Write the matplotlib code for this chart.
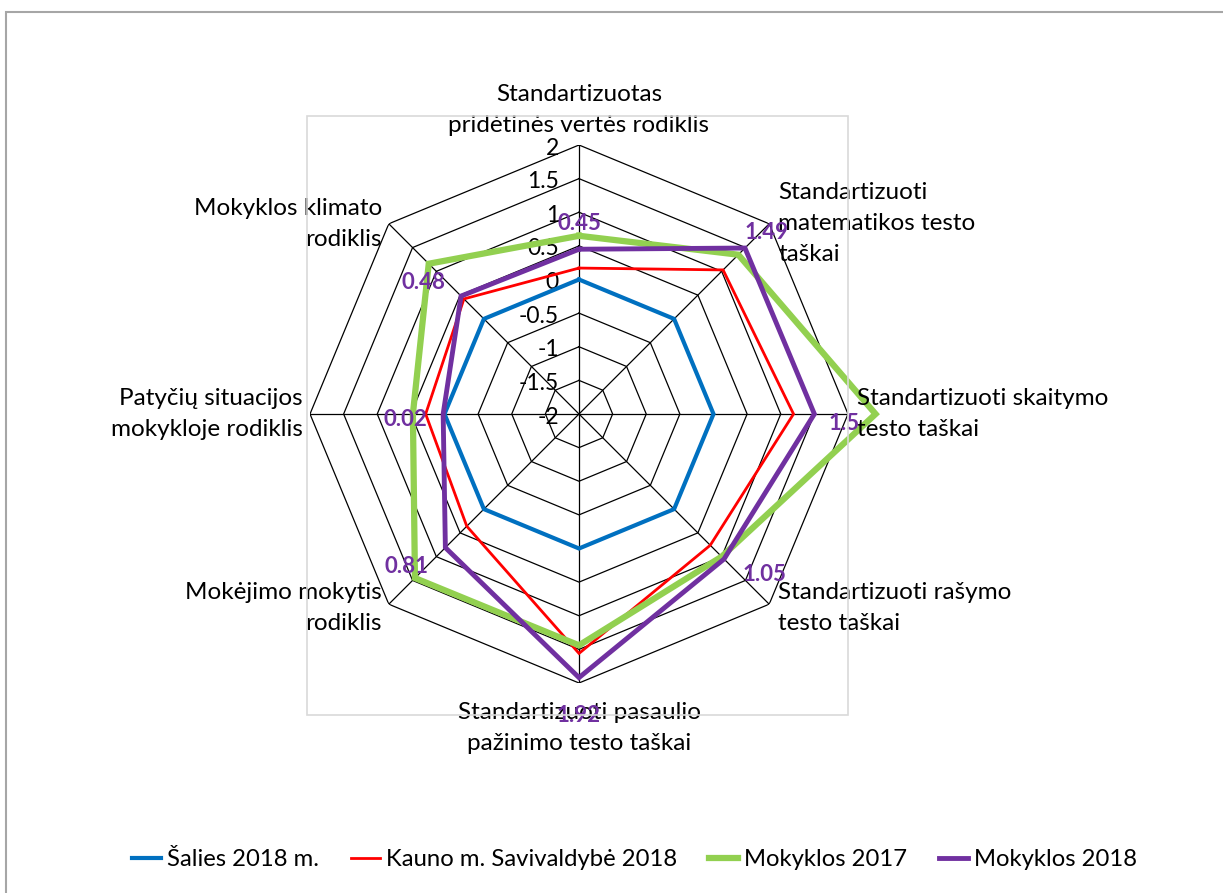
import numpy as np
import matplotlib
matplotlib.use("Agg")
import matplotlib.pyplot as plt
from matplotlib.patches import Rectangle
from matplotlib.lines import Line2D

plt.rcParams['font.family'] = ['Lato', 'DejaVu Sans']

categories = [
    "Standartizuotas\npridėtinės vertės rodiklis",
    "Standartizuoti\nmatematikos testo\ntaškai",
    "Standartizuoti skaitymo\ntesto taškai",
    "Standartizuoti rašymo\ntesto taškai",
    "Standartizuoti pasaulio\npažinimo testo taškai",
    "Mokėjimo mokytis\nrodiklis",
    "Patyčių situacijos\nmokykloje rodiklis",
    "Mokyklos klimato\nrodiklis",
]
salies_2018 = [0, 0, 0, 0, 0, 0, 0, 0]
kauno_2018 = [0.17, 1.03, 1.19, 0.76, 1.56, 0.36, 0.28, 0.42]
mokyklos_2017 = [0.65, 1.35, 2.41, 1.0, 1.44, 1.45, 0.47, 1.16]
mokyklos_2018 = [0.45, 1.49, 1.5, 1.05, 1.92, 0.81, 0.02, 0.48]
series_names = ["Šalies 2018 m.", "Kauno m. Savivaldybė 2018", "Mokyklos 2017", "Mokyklos 2018"]
ticks = [-2, -1.5, -1, -0.5, 0, 0.5, 1, 1.5, 2]
tick_labels = ["-2", "-1.5", "-1", "-0.5", "0", "0.5", "1", "1.5", "2"]

colors = ["#0070c0", "#ff0000", "#92d050", "#7030a0"]
widths = [3.0, 2.0, 4.5, 3.5]

W, H = 1223, 893
fig = plt.figure(figsize=(W / 100, H / 100), dpi=100)

# outer chart border and plot area border
fig.add_artist(Rectangle((6 / W, -0.1), 1.2, (H - 12) / H + 0.1, transform=fig.transFigure,
                         fill=False, edgecolor="#a6a6a6", lw=1.5))
fig.add_artist(Rectangle((307 / W, (H - 715) / H), 541 / W, 599 / H, transform=fig.transFigure,
                         fill=False, edgecolor="#d9d9d9", lw=1.2))

cx, cy, R = 579, 414, 269
ax = fig.add_axes([(cx - R) / W, (H - cy - R) / H, 2 * R / W, 2 * R / H], projection="polar")
ax.set_theta_zero_location("N")
ax.set_theta_direction(-1)
ax.set_ylim(-2, 2)
ax.grid(False)
ax.set_xticks([])
ax.set_yticks([])
ax.spines["polar"].set_visible(False)
ax.patch.set_alpha(0)

n = len(categories)
theta = np.arange(n) * 2 * np.pi / n
theta_c = np.append(theta, theta[0])

# polygon grid
for t in ticks[1:]:
    ax.plot(theta_c, [t] * (n + 1), color="black", lw=0.9, zorder=1)
for th in theta:
    ax.plot([th, th], [-2, 2], color="black", lw=0.9, zorder=1)

# tick labels along top axis
for t, lab in zip(ticks, tick_labels):
    ax.annotate(lab, (0, t), xytext=(-20, -3), textcoords="offset pixels",
                ha="right", va="center", fontsize=16.5, color="black", zorder=2)

# series
all_series = [salies_2018, kauno_2018, mokyklos_2017, mokyklos_2018]
for vals, col, lw in zip(all_series, colors, widths):
    v = np.append(vals, vals[0])
    ax.plot(theta_c, v, color=col, lw=lw, zorder=3, solid_joinstyle="miter", clip_on=False)

# data labels for Mokyklos 2018
label_offsets = [(0, 26), (22, 16), (30, -10), (40, -15), (0, -38), (-39, -19), (-38, -6), (-38, 14)]
for th, v, off in zip(theta, mokyklos_2018, label_offsets):
    ax.annotate(f"{v:g}", (th, v), xytext=off, textcoords="offset pixels",
                ha="center", va="center", fontsize=16, color="#7030a0",
                fontweight="bold", zorder=4)

# category labels
cat_pos = [
    ((0, 9), "center", "bottom"),
    ((9, 0), "left", "center"),
    ((9, 0), "left", "center"),
    ((9, -4), "left", "center"),
    ((0, -19), "center", "top"),
    ((-7, -4), "right", "center"),
    ((-7, 0), "right", "center"),
    ((-7, 0), "right", "center"),
]
for th, lab, (off, ha, va) in zip(theta, categories, cat_pos):
    ax.annotate(lab, (th, 2), xytext=off, textcoords="offset pixels",
                ha=ha, va=va, fontsize=17.5, color="black", linespacing=1.58,
                annotation_clip=False)

handles = [Line2D([], [], color=c, lw=lw) for c, lw in zip(colors, widths)]
fig.legend(handles, series_names, loc="center", bbox_to_anchor=(0.519, 1 - 860 / H),
           ncol=4, frameon=False, fontsize=17.2, handlelength=1.2, handletextpad=0.25,
           columnspacing=1.35)

fig.savefig("out.png", dpi=100, facecolor="white")
